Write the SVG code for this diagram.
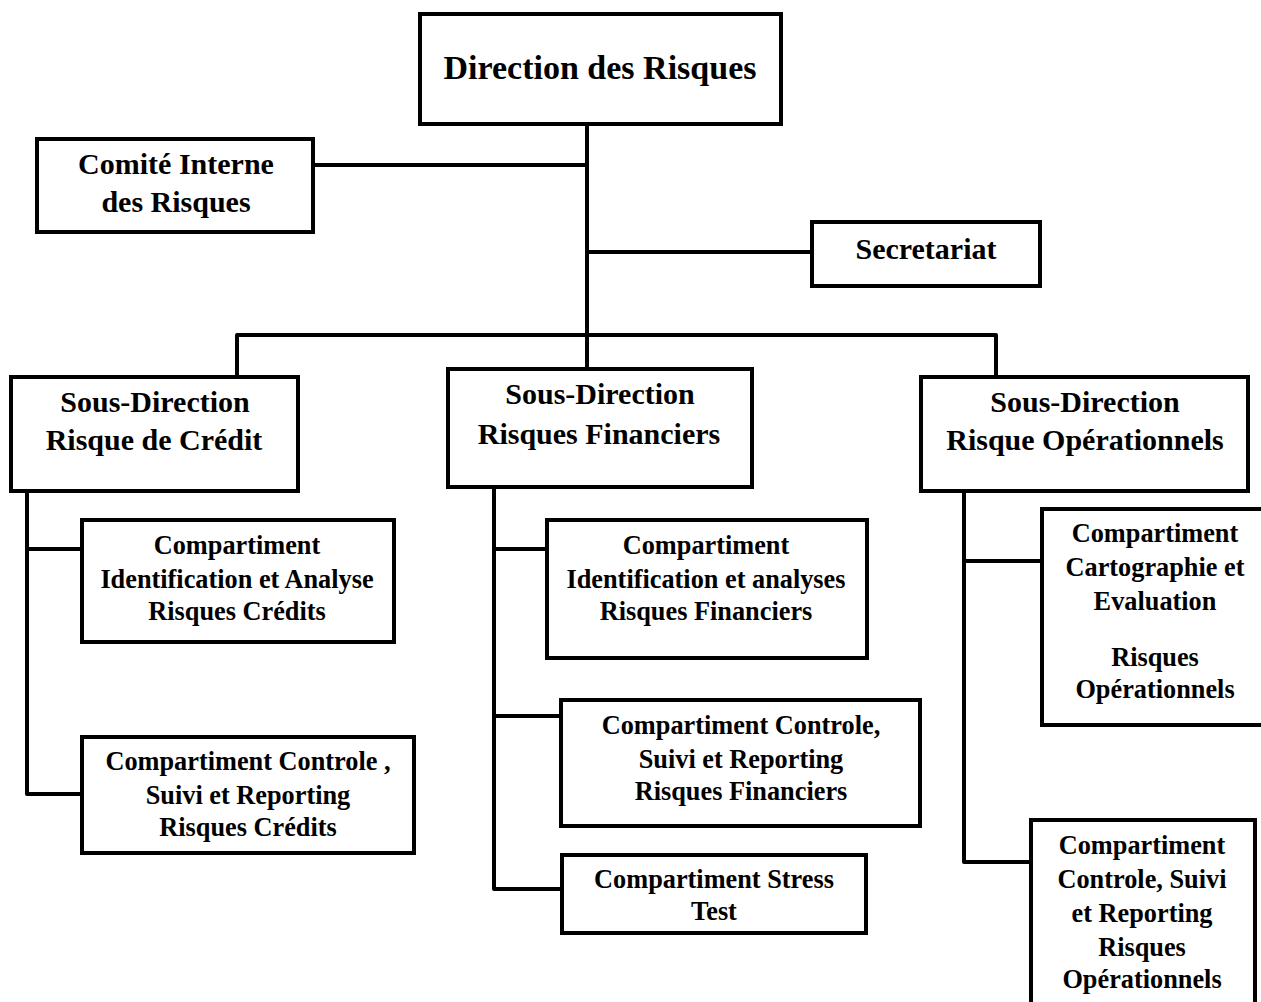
<svg xmlns="http://www.w3.org/2000/svg" width="1261" height="1002" viewBox="0 0 1261 1002">
  <style>
    .box { fill: #ffffff; stroke: #000000; stroke-width: 4; }
    .wire { fill: none; stroke: #000000; stroke-width: 4; stroke-linejoin: round; }
    text { font-family: 'Liberation Serif', serif; font-weight: 700; fill: #000000; text-anchor: middle; }
    .t1 { font-size: 34px; }
    .t2 { font-size: 30px; }
    .t3 { font-size: 26.3px; }
  </style>
  <rect width="1261" height="1002" fill="#ffffff"/>

  <g id="connectors">
    <!-- trunk from the direction down to the sub-direction bar -->
    <path class="wire" d="M587 126 V367"/>
    <path class="wire" d="M315 165 H587"/>
    <path class="wire" d="M587 252 H812"/>
    <path class="wire" d="M237 376 V335 H996 V376"/>
    <!-- credit risk branch -->
    <path class="wire" d="M27 493 V794 H80"/>
    <path class="wire" d="M27 549 H80"/>
    <!-- financial risk branch -->
    <path class="wire" d="M494 489 V889 H560"/>
    <path class="wire" d="M494 549 H545"/>
    <path class="wire" d="M494 716 H560"/>
    <!-- operational risk branch -->
    <path class="wire" d="M964 493 V862 H1030"/>
    <path class="wire" d="M964 561 H1042"/>
  </g>

  <g id="direction">
    <rect class="box" x="420" y="14" width="361" height="110"/>
    <text class="t1" x="600" y="79">Direction des Risques</text>
  </g>

  <g id="comite">
    <rect class="box" x="37" y="139" width="276" height="93"/>
    <text class="t2" x="176" y="174">Comité Interne</text>
    <text class="t2" x="176" y="212">des Risques</text>
  </g>

  <g id="secretariat">
    <rect class="box" x="812" y="222" width="228" height="64"/>
    <text class="t2" x="926" y="259">Secretariat</text>
  </g>

  <g id="sd-credit">
    <rect class="box" x="11" y="377" width="287" height="114"/>
    <text class="t2" x="155" y="412">Sous-Direction</text>
    <text class="t2" x="154" y="450">Risque de Crédit</text>
  </g>

  <g id="sd-financiers">
    <rect class="box" x="448" y="369" width="304" height="118"/>
    <text class="t2" x="600" y="404">Sous-Direction</text>
    <text class="t2" x="599" y="444">Risques Financiers</text>
  </g>

  <g id="sd-operationnels">
    <rect class="box" x="921" y="377" width="327" height="114"/>
    <text class="t2" x="1085" y="412">Sous-Direction</text>
    <text class="t2" x="1085" y="450">Risque Opérationnels</text>
  </g>

  <g id="cp-credit-analyse">
    <rect class="box" x="82" y="520" width="312" height="122"/>
    <text class="t3" x="237" y="554">Compartiment</text>
    <text class="t3" x="237" y="588">Identification et Analyse</text>
    <text class="t3" x="237" y="620">Risques Crédits</text>
  </g>

  <g id="cp-credit-controle">
    <rect class="box" x="82" y="737" width="332" height="116"/>
    <text class="t3" x="248" y="770">Compartiment Controle ,</text>
    <text class="t3" x="248" y="804">Suivi et Reporting</text>
    <text class="t3" x="248" y="836">Risques Crédits</text>
  </g>

  <g id="cp-fin-analyse">
    <rect class="box" x="547" y="520" width="320" height="138"/>
    <text class="t3" x="706" y="554">Compartiment</text>
    <text class="t3" x="706" y="588">Identification et analyses</text>
    <text class="t3" x="706" y="620">Risques Financiers</text>
  </g>

  <g id="cp-fin-controle">
    <rect class="box" x="561" y="700" width="359" height="126"/>
    <text class="t3" x="741" y="734">Compartiment Controle,</text>
    <text class="t3" x="741" y="768">Suivi et Reporting</text>
    <text class="t3" x="741" y="800">Risques Financiers</text>
  </g>

  <g id="cp-stress">
    <rect class="box" x="562" y="855" width="304" height="78"/>
    <text class="t3" x="714" y="888">Compartiment Stress</text>
    <text class="t3" x="714" y="920">Test</text>
  </g>

  <g id="cp-op-cartographie">
    <rect class="box" x="1042" y="509" width="230" height="216"/>
    <text class="t3" x="1155" y="542">Compartiment</text>
    <text class="t3" x="1155" y="576">Cartographie et</text>
    <text class="t3" x="1155" y="610">Evaluation</text>
    <text class="t3" x="1155" y="666">Risques</text>
    <text class="t3" x="1155" y="698">Opérationnels</text>
  </g>

  <g id="cp-op-controle">
    <rect class="box" x="1031" y="820" width="224" height="200"/>
    <text class="t3" x="1142" y="854">Compartiment</text>
    <text class="t3" x="1142" y="888">Controle, Suivi</text>
    <text class="t3" x="1142" y="922">et Reporting</text>
    <text class="t3" x="1142" y="956">Risques</text>
    <text class="t3" x="1142" y="988">Opérationnels</text>
  </g>
</svg>
